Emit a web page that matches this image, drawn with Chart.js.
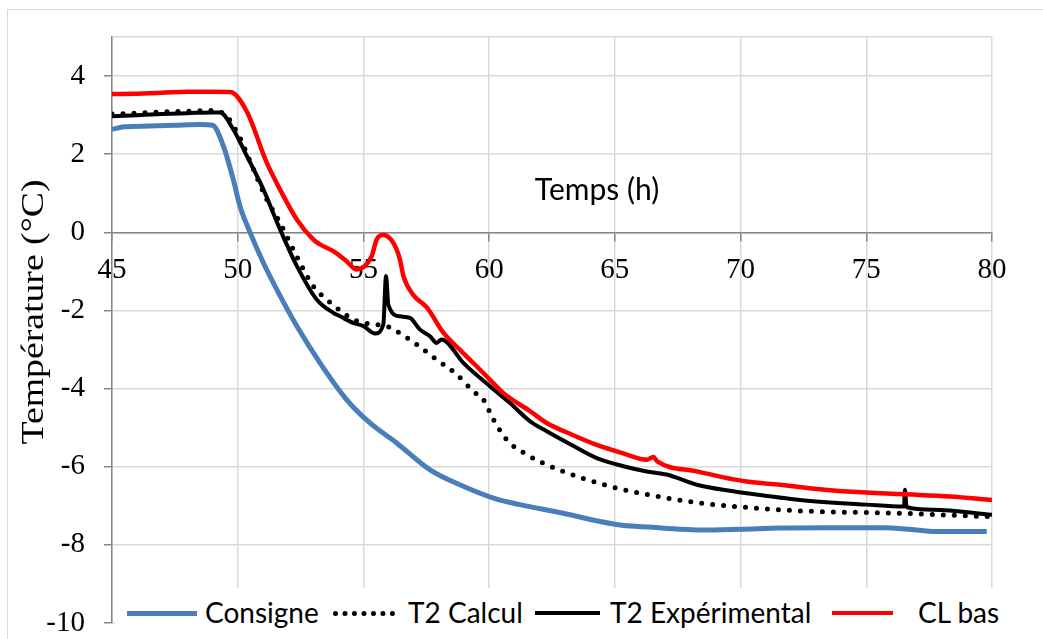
<!DOCTYPE html>
<html>
<head>
<meta charset="utf-8">
<script src="https://cdn.jsdelivr.net/npm/chart.js@4.4.1/dist/chart.umd.min.js"></script>
<style>
  body { margin: 0; background: #fff; }
  #wrap { position: relative; width: 1043px; height: 639px; overflow: hidden; }
  #frame { position: absolute; left: 7px; top: 9px; width: 1100px; height: 700px; border: 1.5px solid #d9d9d9; }
  #chart-temp { position: absolute; left: 0; top: 0; }
  #legend { position: absolute; left: 115px; top: 588px; width: 890px; height: 51px; background: #fff; font-family: Lato, sans-serif; font-size: 28px; color: #000; }
  #legend .sample { position: absolute; top: 25px; height: 0; }
  #legend .txt { position: absolute; top: 7px; line-height: 34px; white-space: pre; }
</style>
</head>
<body>
<div id="wrap">
  <div id="frame"></div>
  <canvas id="chart-temp" width="1043" height="639"></canvas>
  <div id="legend"></div>
</div>
<script>
{ // scoping

  // Consigne (blue)
  const consigneT = [45, 45.5, 46.5, 47.5, 48.5, 49.0, 49.43, 49.82, 50.09, 50.49, 51.02, 51.55, 52.35, 53.27, 54.33, 55.26, 56.32, 57.65, 58.97, 60.3, 61.23, 62.95, 64.41, 65.2, 66.5, 67.59, 68.39, 70, 71.57, 73.5, 75.68, 77.0, 77.93, 79.79];
  const consigneV = [2.64, 2.7, 2.72, 2.74, 2.76, 2.74, 2.21, 1.36, 0.67, 0.0, -0.78, -1.46, -2.4, -3.34, -4.28, -4.88, -5.39, -6.08, -6.5, -6.83, -6.97, -7.19, -7.4, -7.49, -7.55, -7.6, -7.62, -7.6, -7.57, -7.56, -7.56, -7.62, -7.66, -7.66];

  // T2 Calcul (dotted)
  const calculT = [45, 46, 47, 48, 49, 49.2, 49.56, 49.82, 50.09, 50.62, 51.15, 51.68, 52.21, 53.01, 53.54, 54.2, 54.6, 55.3, 55.92, 56.32, 57.12, 57.91, 58.71, 59.37, 59.77, 60.17, 60.7, 61.5, 62.82, 64.68, 66.53, 68.39, 70, 72.36, 76.34, 79.52, 80];
  const calculV = [3.03, 3.05, 3.08, 3.1, 3.12, 3.1, 2.98, 2.73, 2.42, 1.62, 0.85, 0.25, -0.44, -1.38, -1.72, -2.06, -2.23, -2.35, -2.4, -2.53, -2.87, -3.26, -3.64, -4.07, -4.28, -4.79, -5.31, -5.69, -6.09, -6.48, -6.74, -6.93, -7.03, -7.13, -7.19, -7.27, -7.28];

  // T2 Expérimental (black)
  const expT = [45, 46, 47, 48, 49, 49.3, 49.82, 50.36, 51.02, 51.68, 52.35, 53.14, 53.8, 54.07, 54.6, 55.0, 55.46, 55.79, 55.9, 55.99, 56.45, 56.85, 57.25, 57.65, 57.91, 58.11, 58.97, 60.03, 60.83, 61.63, 62.29, 63.3, 64.28, 65.3, 66.27, 67.06, 68.26, 69.71, 70.24, 72.36, 75.02, 76.5, 76.54, 76.6, 77.67, 80];
  const expV = [2.97, 3.0, 3.03, 3.05, 3.07, 3.07, 2.64, 1.96, 1.1, 0.08, -0.86, -1.72, -2.06, -2.15, -2.32, -2.4, -2.59, -2.36, -1.12, -1.85, -2.15, -2.19, -2.49, -2.66, -2.83, -2.74, -3.34, -3.94, -4.37, -4.84, -5.09, -5.45, -5.78, -5.98, -6.12, -6.2, -6.46, -6.63, -6.68, -6.85, -6.97, -7.02, -6.59, -7.03, -7.1, -7.23];

  // CL bas (red)
  const clBasT = [45, 46, 47, 48, 49, 49.7, 50.37, 51.15, 51.68, 52.35, 53.0, 53.27, 53.8, 54.33, 54.73, 55.06, 55.33, 55.53, 55.79, 56.19, 56.45, 56.59, 56.98, 57.52, 58.18, 58.97, 59.77, 60.56, 61.63, 62.29, 63.3, 64.28, 65.3, 66.27, 66.53, 66.7, 68.26, 70.24, 71.57, 73.69, 76.34, 78.33, 80];
  const clBasV = [3.54, 3.55, 3.57, 3.6, 3.6, 3.59, 3.08, 1.79, 1.10, 0.33, -0.18, -0.31, -0.48, -0.74, -0.95, -0.86, -0.61, -0.18, -0.07, -0.27, -0.69, -1.12, -1.6, -1.92, -2.57, -3.09, -3.6, -4.11, -4.58, -4.88, -5.18, -5.44, -5.65, -5.82, -5.75, -5.87, -6.12, -6.38, -6.46, -6.61, -6.7, -6.76, -6.85];

  const seriesLabels = ['Consigne', 'T2 Calcul', 'T2 Expérimental', 'CL bas'];

  const toPoints = (ts, vs) => ts.map((t, i) => ({ x: t, y: vs[i] }));

  const ctx = document.getElementById('chart-temp').getContext('2d');

  // axis titles drawn where Excel put them
  const axisTitles = {
    id: 'axisTitles',
    afterDraw(chart) {
      const c = chart.ctx;
      c.save();
      c.fillStyle = '#000';
      c.font = '30px Lato';
      c.textAlign = 'center';
      c.textBaseline = 'middle';
      c.fillText('Temps (h)', 597, 190);
      // y title, stretched along its length like the original
      const yTitle = 'Température (°C)';
      c.translate(35, 312);
      c.rotate(-Math.PI / 2);
      c.font = '31px "Liberation Serif"';
      const w = c.measureText(yTitle).width;
      c.scale(265 / w, 1);
      c.fillText(yTitle, 0, 0);
      c.restore();
    }
  };

  const tickFont = { family: 'Liberation Serif', size: 29 };

  const myChart = new Chart(ctx, {
    type: 'line',
    data: {
      datasets: [{
        label: seriesLabels[0],
        data: toPoints(consigneT, consigneV),
        borderColor: '#4a7ebb',
        borderWidth: 5,
        order: 3
      }, {
        label: seriesLabels[1],
        data: toPoints(calculT, calculV),
        borderColor: '#000',
        borderWidth: 5,
        borderDash: [0, 11],
        borderCapStyle: 'round',
        order: 2
      }, {
        label: seriesLabels[2],
        data: toPoints(expT, expV),
        borderColor: '#000',
        borderWidth: 4,
        order: 1
      }, {
        label: seriesLabels[3],
        data: toPoints(clBasT, clBasV),
        borderColor: '#ff0000',
        borderWidth: 4.5,
        order: 0
      }]
    },
    options: {
      responsive: false,
      animation: false,
      elements: {
        point: { radius: 0 },
        line: { cubicInterpolationMode: 'monotone' }
      },
      layout: { padding: { top: 37, right: 51, bottom: 16, left: 0 } },
      plugins: {
        legend: { display: false },
        tooltip: { enabled: false }
      },
      scales: {
        x: {
          type: 'linear',
          min: 45,
          max: 80,
          position: { y: 0 },
          ticks: { stepSize: 5, color: '#000', font: tickFont, padding: 13, maxRotation: 0 },
          grid: { color: '#d9d9d9', lineWidth: 1.5, tickLength: 8, tickColor: '#868686' },
          border: { color: '#868686', width: 1.5 },
          afterFit(scale) { scale.paddingTop = 0; scale.paddingBottom = 0; }
        },
        y: {
          min: -10,
          max: 5,
          ticks: {
            stepSize: 2,
            color: '#000',
            font: tickFont,
            padding: 19,
            callback: v => (v === 5 ? '' : v)
          },
          grid: {
            color: '#d9d9d9',
            lineWidth: 1.5,
            tickLength: 8,
            tickColor: c => (c.tick && c.tick.value === 5 ? 'rgba(0,0,0,0)' : '#868686')
          },
          border: { color: '#868686', width: 1.5 },
          afterFit(scale) {
            scale.width = 112;
            scale.paddingTop = 0;
            scale.paddingBottom = 0;
          }
        }
      }
    },
    plugins: [axisTitles]
  });

  // legend built from the datasets
  const legendEl = document.getElementById('legend');
  const sampleLeft = [12, 218, 420, 717];
  const sampleWidth = [70, 62, 65, 61];
  const textLeft = [90, 293, 495, 803];
  myChart.data.datasets.forEach((ds, i) => {
    const s = document.createElement('span');
    s.className = 'sample';
    const style = ds.borderDash ? 'dotted' : 'solid';
    const w = ds.borderDash ? 5 : Math.min(ds.borderWidth, 5);
    s.style.left = sampleLeft[i] + 'px';
    s.style.width = sampleWidth[i] + 'px';
    s.style.borderTop = w + 'px ' + style + ' ' + ds.borderColor;
    s.style.marginTop = (-w / 2) + 'px';
    legendEl.appendChild(s);
    const t = document.createElement('span');
    t.className = 'txt';
    t.style.left = textLeft[i] + 'px';
    t.textContent = ds.label;
    legendEl.appendChild(t);
  });

} // scoping
</script>
</body>
</html>
